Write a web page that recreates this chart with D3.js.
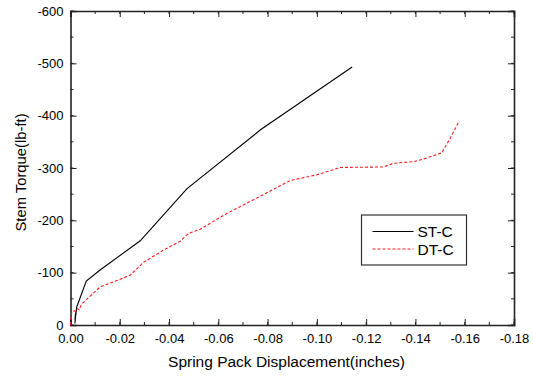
<!DOCTYPE html>
<html>
<head>
<meta charset="utf-8">
<script src="https://cdn.jsdelivr.net/npm/d3@7"></script>
<style>
  body { margin: 0; background: #fff; }
  svg { display: block; font-family: "Liberation Sans", Arial, sans-serif; }
</style>
</head>
<body>
<svg id="chart" width="533" height="376"></svg>
<script>
// data (displacement in inches, torque in lb-ft)
const stX = [-0.0018, -0.0021, -0.0019, -0.0021, -0.0018, -0.0022, -0.0025, -0.0064, -0.0120, -0.0283, -0.0472, -0.0774, -0.1143];
const stY = [-3, -22, -6, -24, -10, -20, -34, -84, -105, -161, -260, -374, -493];

const dtX = [0, -0.0002, -0.0005, -0.0015, -0.0022, -0.0028, -0.0035, -0.0045, -0.0121, -0.0178, -0.0242, -0.0297, -0.0377, -0.0445, -0.0479, -0.0526, -0.0634, -0.0729, -0.0851, -0.0891, -0.1000, -0.1095, -0.1270, -0.1310, -0.1390, -0.1432, -0.1507, -0.1540, -0.1578];
const dtY = [0, -14, -25, -27, -26, -31, -29, -40, -73, -83, -95, -120, -143, -160, -175, -183, -213, -236, -266, -276, -287, -301, -302, -309, -312, -317, -329, -356, -390];

const xTicks = [0, -0.02, -0.04, -0.06, -0.08, -0.10, -0.12, -0.14, -0.16, -0.18];
const yTicks = [0, -100, -200, -300, -400, -500, -600];
const xMinor = d3.range(0, 19).map(i => -i * 0.01);
const yMinor = d3.range(0, 13).map(i => -i * 50);

const seriesNames = ['ST-C', 'DT-C'];

const svg = d3.select('#chart');
const plotL = 70.5, plotR = 514, plotT = 11, plotB = 325;

const x = d3.scaleLinear().domain([0, -0.18]).range([plotL, plotR]);
const y = d3.scaleLinear().domain([0, -600]).range([plotB, plotT]);

const frame = '#222';

// minor ticks (inside) on all four sides
const minor = svg.append('g').attr('stroke', frame).attr('stroke-width', 1);
xMinor.forEach(v => {
    minor.append('line').attr('x1', x(v)).attr('x2', x(v)).attr('y1', plotB).attr('y2', plotB - 3);
    minor.append('line').attr('x1', x(v)).attr('x2', x(v)).attr('y1', plotT).attr('y2', plotT + 3);
});
yMinor.forEach(v => {
    minor.append('line').attr('x1', plotL).attr('x2', plotL + 3).attr('y1', y(v)).attr('y2', y(v));
    minor.append('line').attr('x1', plotR).attr('x2', plotR - 3).attr('y1', y(v)).attr('y2', y(v));
});

// bottom axis
const xAxis = svg.append('g')
    .attr('transform', `translate(0,${plotB})`)
    .call(d3.axisBottom(x).tickValues(xTicks).tickSize(-6).tickPadding(9)
        .tickFormat(d => d.toFixed(2)));
// left axis
const yAxis = svg.append('g')
    .attr('transform', `translate(${plotL},0)`)
    .call(d3.axisLeft(y).tickValues(yTicks).tickSize(-6).tickPadding(7)
        .tickFormat(d => String(d)));
// top and right, ticks only
const xTop = svg.append('g')
    .attr('transform', `translate(0,${plotT})`)
    .call(d3.axisTop(x).tickValues(xTicks).tickSize(-6).tickFormat(''));
const yRight = svg.append('g')
    .attr('transform', `translate(${plotR},0)`)
    .call(d3.axisRight(y).tickValues(yTicks).tickSize(-6).tickFormat(''));

[xAxis, yAxis, xTop, yRight].forEach(g => {
    g.select('.domain').attr('stroke', frame).attr('stroke-width', 1.6);
    g.selectAll('.tick line').attr('stroke', frame).attr('stroke-width', 1);
    g.selectAll('.tick text').attr('fill', '#000').attr('font-size', 13)
        .attr('font-family', '"Liberation Sans", Arial, sans-serif');
});

// lines
const line = d3.line().x(d => x(d[0])).y(d => y(d[1]));
svg.append('path')
    .datum(d3.zip(stX, stY))
    .attr('d', line)
    .attr('fill', 'none')
    .attr('stroke', '#000')
    .attr('stroke-width', 1.1);
svg.append('path')
    .datum(d3.zip(dtX, dtY))
    .attr('d', line)
    .attr('fill', 'none')
    .attr('stroke', '#ff1a1a')
    .attr('stroke-width', 1.1)
    .attr('stroke-dasharray', '3,2');

// axis titles
svg.append('text')
    .attr('x', 286.5)
    .attr('y', 367)
    .attr('text-anchor', 'middle')
    .attr('font-size', 15.5)
    .text('Spring Pack Displacement(inches)');
svg.append('text')
    .attr('transform', 'translate(25.5,172.5) rotate(-90)')
    .attr('text-anchor', 'middle')
    .attr('font-size', 14.8)
    .text('Stem Torque(lb-ft)');

// legend
const lg = svg.append('g');
lg.append('rect')
    .attr('x', 361.5).attr('y', 215)
    .attr('width', 105).attr('height', 50)
    .attr('fill', '#fff').attr('stroke', '#333').attr('stroke-width', 1.2);
const legendStyle = [
    { stroke: '#000', dash: null },
    { stroke: '#ff1a1a', dash: '3,2' }
];
seriesNames.forEach((name, i) => {
    const ly = 231.5 + i * 17.5;
    lg.append('line')
        .attr('x1', 372.5).attr('x2', 413.5)
        .attr('y1', ly).attr('y2', ly)
        .attr('stroke', legendStyle[i].stroke)
        .attr('stroke-width', 1.1)
        .attr('stroke-dasharray', legendStyle[i].dash);
    lg.append('text')
        .attr('x', 417.5).attr('y', ly + 5.5)
        .attr('font-size', 15.5)
        .text(name);
});
</script>
</body>
</html>
